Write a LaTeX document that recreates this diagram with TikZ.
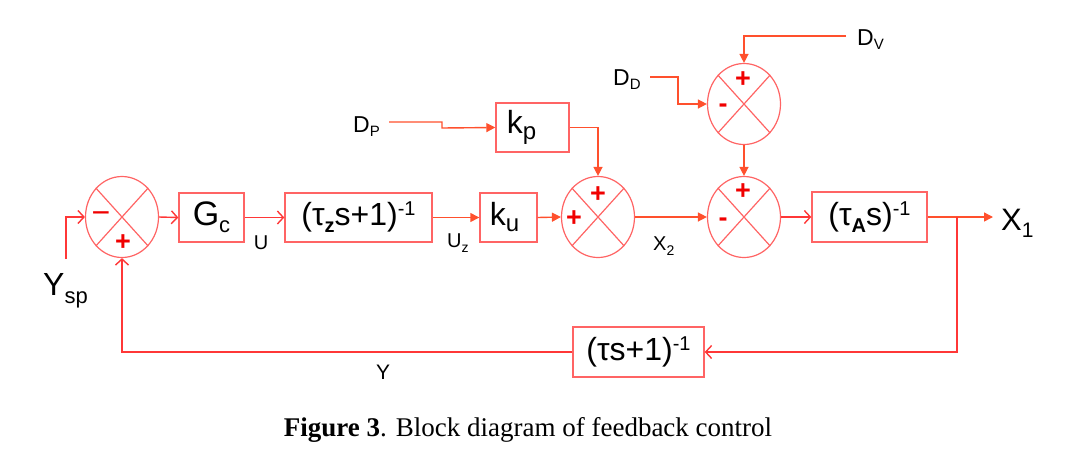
\documentclass[tikz,border=0pt]{standalone}
\usepackage{fontspec}
\setmainfont{Liberation Sans}
\newfontfamily\capfont{Liberation Serif}
\usetikzlibrary{arrows.meta,shapes.geometric}
\definecolor{boxred}{RGB}{255,100,100}
\definecolor{wirered}{RGB}{255,55,55}
\definecolor{wireorg}{RGB}{255,80,45}
\definecolor{signred}{RGB}{240,0,0}
\newcommand\fs[1]{\fontsize{#1}{#1}\selectfont}
\tikzset{
  blk/.style={draw=boxred, line width=1.4pt, inner sep=0pt, minimum height=49pt},
  sumj/.style={draw=boxred, ellipse, line width=1.2pt, inner sep=0pt, minimum width=73pt, minimum height=81pt},
  xline/.style={draw=boxred, line width=1.2pt},
  wo/.style={draw=wirered, line width=1.4pt, -{Straight Barb[length=6pt,width=13pt,line width=1.4pt]}},
  wf/.style={draw=wireorg, line width=1.4pt, -{Triangle[length=9pt,width=9pt]}},
  sgn/.style={text=signred, font=\fs{27}\bfseries, inner sep=0pt},
  lbl/.style={inner sep=0pt, text=black}
}
\begin{document}
\begin{tikzpicture}[x=1pt,y=-1pt]
\useasboundingbox (0,0) rectangle (1069,451);
% summing junctions
\node[sumj] (s1) at (122,217) {};
\node[sumj] (s2) at (598,217) {};
\node[sumj] (s3) at (744,217) {};
\node[sumj] (s4) at (744,104) {};
\foreach \n in {s1,s2,s3,s4}{
  \draw[xline] (\n.north west) -- (\n.south east) (\n.north east) -- (\n.south west);
}
% signs
\node[sgn, font=\fs{32}] (m1) at (101,218) {−};
\node[sgn] (p1) at (123,243) {+};
\node[sgn] (p2a) at (598,195) {+};
\node[sgn] (p2b) at (574,219) {+};
\node[sgn] (p3) at (743,192) {+};
\node[sgn] (m3) at (723,222) {-};
\node[sgn] (p4) at (743,80) {+};
\node[sgn] (m4) at (723,108) {-};
% blocks
\node[blk, minimum width=65pt] (gc) at (211.5,217.5) {\fs{34}G\raisebox{-7pt}{\fs{22}c}};
\node[blk, minimum width=147pt] (tz) at (358.5,217.5) {\fs{32}(τ\raisebox{-7pt}{\fs{20}\bfseries z}s+1)\raisebox{10pt}{\fs{20}-1}};
\node[blk, minimum width=57pt] (ku) at (508.5,217.5) {\fs{32}k\raisebox{-6pt}{\fs{24}u}\hspace*{8pt}};
\node[blk, minimum width=73pt] (kp) at (532.5,127.5) {\fs{32}k\raisebox{-6pt}{\fs{24}p}\hspace*{22pt}};
\node[blk, minimum width=115pt, minimum height=50pt] (ta) at (869.5,217) {\fs{32}(τ\raisebox{-7pt}{\fs{20}\bfseries A}s)\raisebox{10pt}{\fs{20}-1}};
\node[blk, minimum width=131pt, minimum height=50pt] (fb) at (638.5,352) {\fs{32}(τs+1)\raisebox{10pt}{\fs{20}-1}};
% labels
\node[lbl, anchor=base west] (ysp) at (43,295) {\fs{32}Y\raisebox{-8pt}{\fs{22}sp}};
\node[lbl, anchor=base west] (x1) at (1001,230) {\fs{31}X\raisebox{-7pt}{\fs{21}1}};
\node[lbl, anchor=base] (ul) at (261,249) {\fs{20}U};
\node[lbl, anchor=base west] (uzl) at (447,247) {\fs{20}U\raisebox{-5pt}{\fs{14}z}};
\node[lbl, anchor=base west] (x2l) at (653,250) {\fs{20}X\raisebox{-5pt}{\fs{14}2}};
\node[lbl, anchor=base] (yl) at (383,379) {\fs{21}Y};
\node[lbl, anchor=base west] (dpl) at (353,132) {\fs{23}D\raisebox{-4pt}{\fs{15}P}};
\node[lbl, anchor=base west] (ddl) at (613,85) {\fs{23}D\raisebox{-4pt}{\fs{15}D}};
\node[lbl, anchor=base west] (dvl) at (857,45) {\fs{23}D\raisebox{-4pt}{\fs{15}V}};
% free ends
\coordinate (ysb) at (66,259);
\coordinate (x1e) at (993,217);
\coordinate (br) at (957,217);
\coordinate (dpe) at (389,122);
\coordinate (dve) at (846,36);
\coordinate (dde) at (650,77);
% connectors
\draw[wo] (ysb) |- (s1.west);
\draw[wo] (s1.east) -- (gc.west);
\draw[wo] (gc.east) -- (tz.west);
\draw[wf] (tz.east) -- (ku.west);
\draw[wf] (ku.east) -- (s2.west);
\draw[wf] (s2.east) -- (s3.west);
\draw[wo] (s3.east) -- (ta.west);
\draw[wf] (ta.east) -- (x1e);
\draw[wo] (br) |- (fb.east);
\draw[wo] (fb.west) -| (s1.south);
\draw[wf] (dpe) -- ++(53,0) -- ++(0,6) -- (kp.west);
\draw[wf] (kp.east) -| (s2.north);
\draw[wf] (dve) -| (s4.north);
\draw[wf] (dde) -- ++(28,0) |- (s4.west);
\draw[wf] (s4.south) -- (s3.north);
% caption
\node[lbl, anchor=base, font=\capfont\fs{27}] (cap) at (528,436) {\textbf{Figure 3}. Block diagram of feedback control};
\end{tikzpicture}
\end{document}
